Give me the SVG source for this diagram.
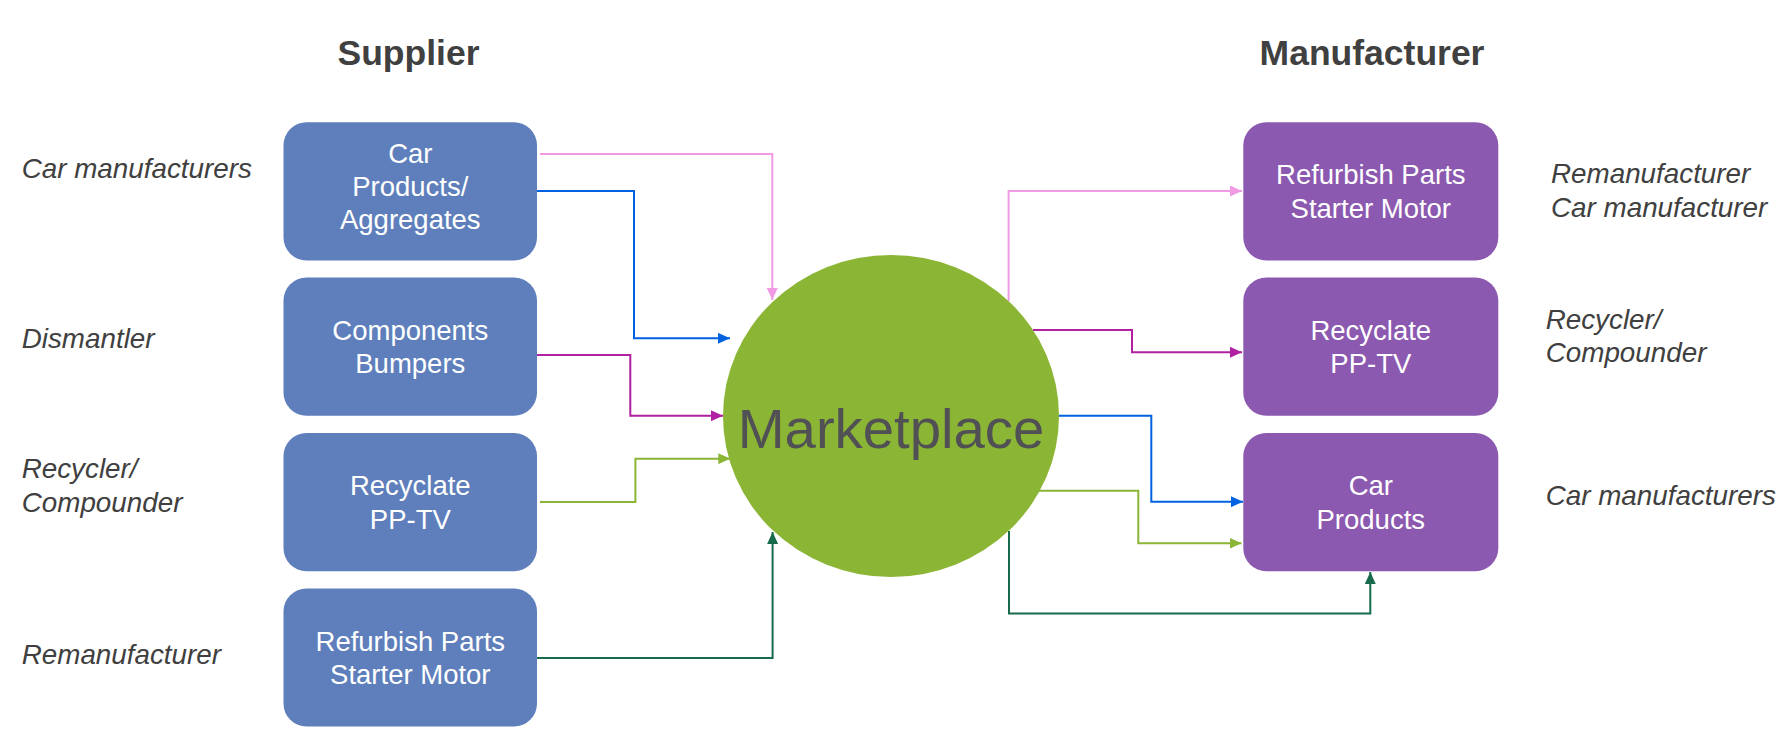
<svg xmlns="http://www.w3.org/2000/svg" width="1792" height="756" viewBox="0 0 1792 756">
<defs>
<style>
.title{font-family:"Liberation Sans",Arial,sans-serif;font-weight:bold;font-size:35.5px;fill:#404040;text-anchor:middle}
.lbl{font-family:"Liberation Sans",Arial,sans-serif;font-style:italic;font-size:27.8px;fill:#404040}
.bt{font-family:"Liberation Sans",Arial,sans-serif;font-size:27.5px;fill:#ffffff;text-anchor:middle}
.sup{fill:#5E7FBB}
.man{fill:#8C59B0}
.c{fill:none;stroke-width:2}
</style>
<marker id="aPink" markerUnits="userSpaceOnUse" markerWidth="12" markerHeight="11" refX="12" refY="5.5" orient="auto"><path d="M0,0 L12,5.5 L0,11 z" fill="#F09BE3"/></marker>
<marker id="aBlue" markerUnits="userSpaceOnUse" markerWidth="12" markerHeight="11" refX="12" refY="5.5" orient="auto"><path d="M0,0 L12,5.5 L0,11 z" fill="#0062E0"/></marker>
<marker id="aMag" markerUnits="userSpaceOnUse" markerWidth="12" markerHeight="11" refX="12" refY="5.5" orient="auto"><path d="M0,0 L12,5.5 L0,11 z" fill="#B020A0"/></marker>
<marker id="aLg" markerUnits="userSpaceOnUse" markerWidth="12" markerHeight="11" refX="12" refY="5.5" orient="auto"><path d="M0,0 L12,5.5 L0,11 z" fill="#8BB535"/></marker>
<marker id="aDg" markerUnits="userSpaceOnUse" markerWidth="12" markerHeight="11" refX="12" refY="5.5" orient="auto"><path d="M0,0 L12,5.5 L0,11 z" fill="#176B4A"/></marker>
</defs>
<rect width="1792" height="756" fill="#ffffff"/>

<g id="titles">
<text class="title" x="408.5" y="65">Supplier</text>
<text class="title" x="1372" y="65">Manufacturer</text>
</g>

<g id="labels">
<text class="lbl" x="21.7" y="178">Car manufacturers</text>
<text class="lbl" x="21.7" y="348">Dismantler</text>
<text class="lbl" x="21.7" y="478">Recycler/</text>
<text class="lbl" x="21.7" y="512">Compounder</text>
<text class="lbl" x="21.7" y="664">Remanufacturer</text>
<text class="lbl" x="1551" y="183">Remanufacturer</text>
<text class="lbl" x="1551" y="217">Car manufacturer</text>
<text class="lbl" x="1545.7" y="328.5">Recycler/</text>
<text class="lbl" x="1545.7" y="362">Compounder</text>
<text class="lbl" x="1545.7" y="505">Car manufacturers</text>
</g>

<g id="connectors">
<path class="c" stroke="#F09BE3" stroke-width="1.6" d="M540,154 H772.3 V300" marker-end="url(#aPink)"/>
<path class="c" stroke="#0062E0" d="M537,191 H634 V338.3 H730" marker-end="url(#aBlue)"/>
<path class="c" stroke="#B020A0" d="M537,355 H630.3 V415.7 H723" marker-end="url(#aMag)"/>
<path class="c" stroke="#8BB535" d="M540,502 H635.4 V458.7 H730.3" marker-end="url(#aLg)"/>
<path class="c" stroke="#176B4A" d="M537,658 H772.6 V532" marker-end="url(#aDg)"/>
<path class="c" stroke="#F09BE3" stroke-width="1.6" d="M1008.6,301 V191 H1242" marker-end="url(#aPink)"/>
<path class="c" stroke="#B020A0" d="M1033,330 H1132 V352.3 H1242" marker-end="url(#aMag)"/>
<path class="c" stroke="#0062E0" d="M1059,415.7 H1151.3 V501.7 H1243" marker-end="url(#aBlue)"/>
<path class="c" stroke="#8BB535" d="M1039,490.7 H1138.3 V543.3 H1241.5" marker-end="url(#aLg)"/>
<path class="c" stroke="#176B4A" d="M1009,531 V613.5 H1370.3 V572" marker-end="url(#aDg)"/>
</g>

<g id="marketplace">
<ellipse cx="891" cy="416" rx="168" ry="161" fill="#8BB535"/>
<text x="891" y="448" font-family="'Liberation Sans',Arial,sans-serif" font-size="56.3" fill="#505055" text-anchor="middle">Marketplace</text>
</g>

<g id="s1">
<rect class="sup" x="283.5" y="122.3" width="253.5" height="138.2" rx="23"/>
<text class="bt" x="410.3" y="163.3">Car</text>
<text class="bt" x="410.3" y="196">Products/</text>
<text class="bt" x="410.3" y="229.3">Aggregates</text>
</g>
<g id="s2">
<rect class="sup" x="283.5" y="277.5" width="253.5" height="138.2" rx="23"/>
<text class="bt" x="410.3" y="340">Components</text>
<text class="bt" x="410.3" y="373">Bumpers</text>
</g>
<g id="s3">
<rect class="sup" x="283.5" y="433" width="253.5" height="138.2" rx="23"/>
<text class="bt" x="410.3" y="495.3">Recyclate</text>
<text class="bt" x="410.3" y="528.7">PP-TV</text>
</g>
<g id="s4">
<rect class="sup" x="283.5" y="588.4" width="253.5" height="138.2" rx="23"/>
<text class="bt" x="410.3" y="650.7">Refurbish Parts</text>
<text class="bt" x="410.3" y="684">Starter Motor</text>
</g>

<g id="m1">
<rect class="man" x="1243.3" y="122.3" width="255" height="138.2" rx="23"/>
<text class="bt" x="1370.8" y="184.3">Refurbish Parts</text>
<text class="bt" x="1370.8" y="218">Starter Motor</text>
</g>
<g id="m2">
<rect class="man" x="1243.3" y="277.5" width="255" height="138.2" rx="23"/>
<text class="bt" x="1370.8" y="340">Recyclate</text>
<text class="bt" x="1370.8" y="373">PP-TV</text>
</g>
<g id="m3">
<rect class="man" x="1243.3" y="433" width="255" height="138.2" rx="23"/>
<text class="bt" x="1370.8" y="495.3">Car</text>
<text class="bt" x="1370.8" y="528.7">Products</text>
</g>
</svg>
